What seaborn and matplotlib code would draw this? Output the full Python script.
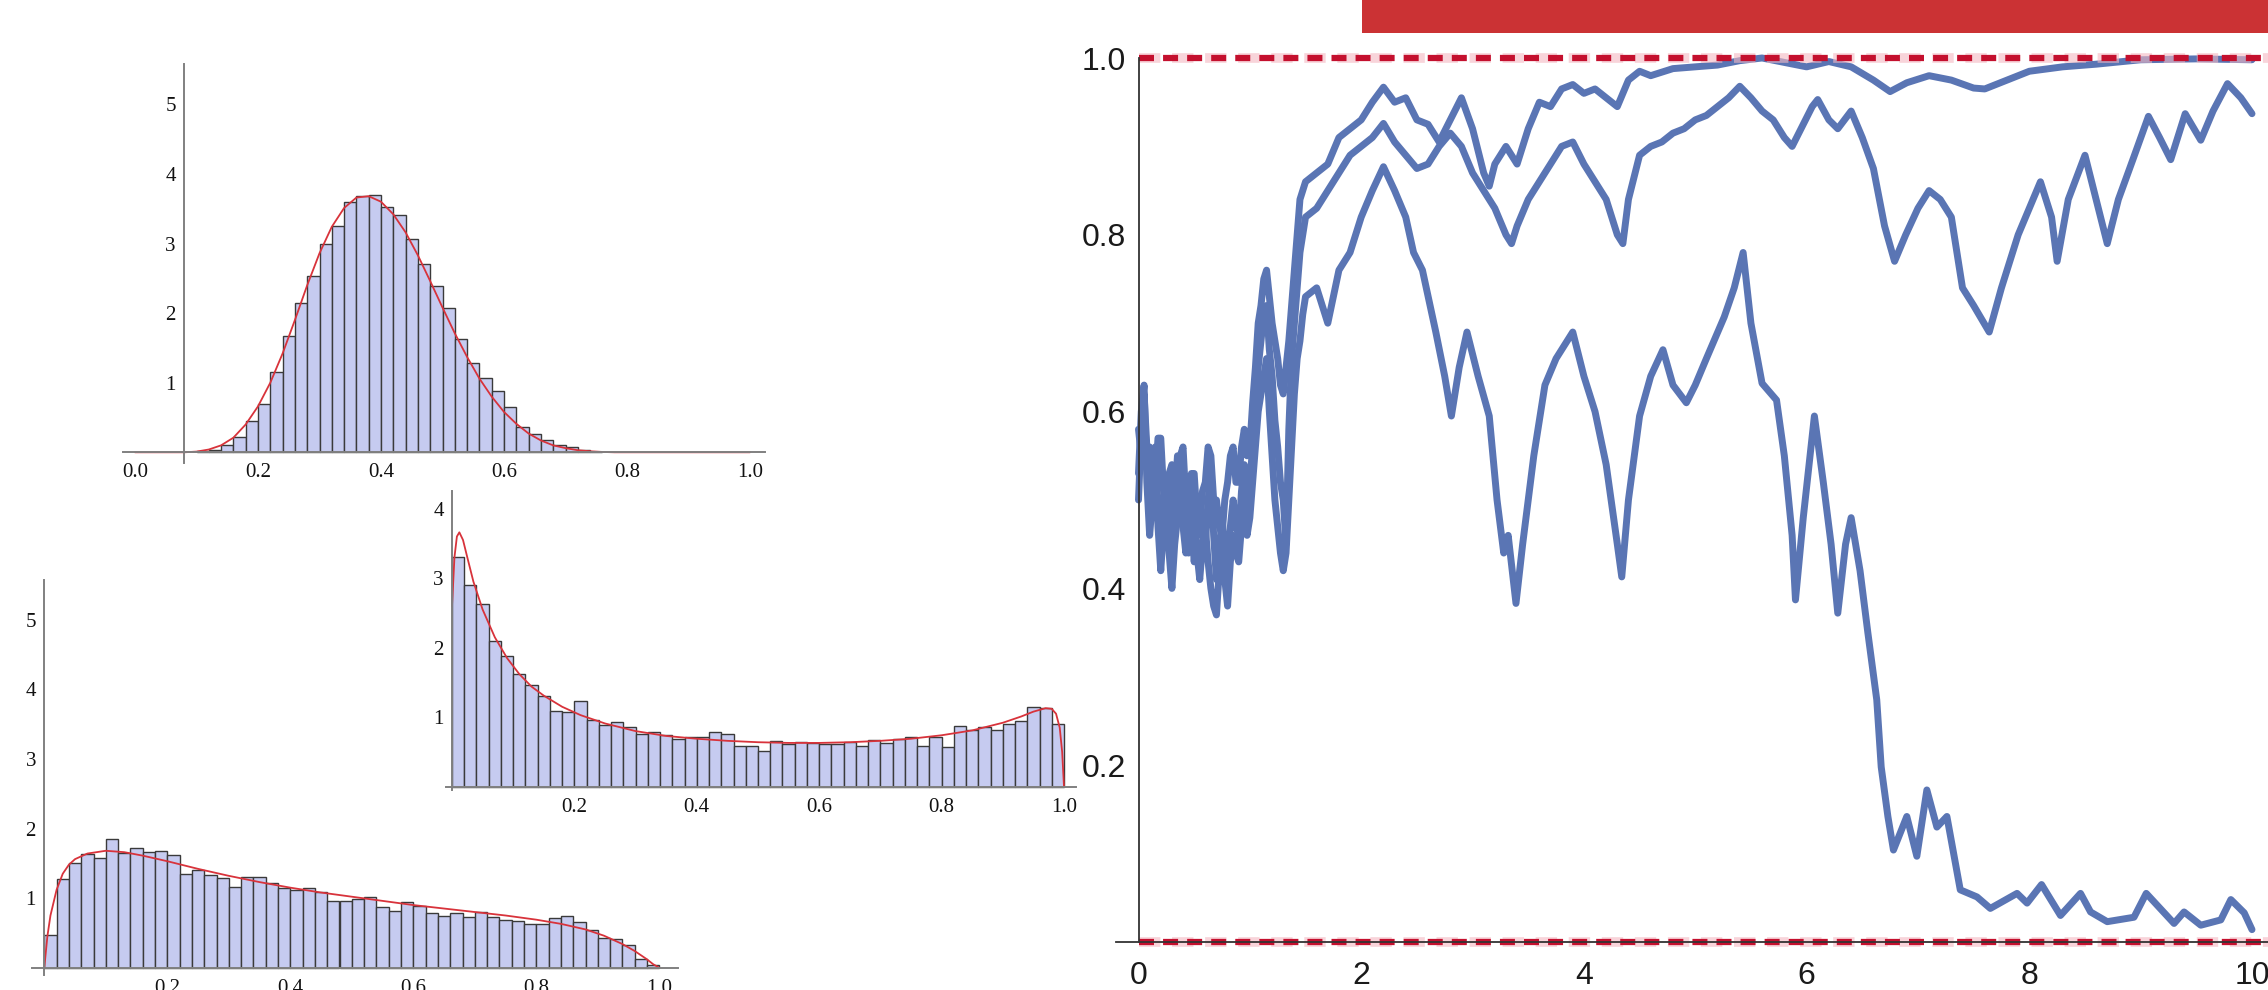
import matplotlib
matplotlib.use("Agg")
import matplotlib.pyplot as plt
from matplotlib import font_manager
from matplotlib.patches import Rectangle
from matplotlib.ticker import FixedLocator, MultipleLocator
import seaborn as sns

# ---------------- data ----------------
# top histogram (bins of width 0.02 starting at 0.10)
top_start = 0.10
top_heights = [0.02, 0.04, 0.11, 0.22, 0.45, 0.70, 1.15, 1.67, 2.15, 2.54, 3.00,
               3.25, 3.59, 3.68, 3.70, 3.53, 3.41, 3.07, 2.70, 2.39, 2.08, 1.63,
               1.28, 1.07, 0.88, 0.65, 0.36, 0.27, 0.18, 0.11, 0.08, 0.03, 0.01]
top_fit_x = [0.0, 0.08, 0.10, 0.12, 0.14, 0.16, 0.18, 0.20, 0.22, 0.24, 0.26, 0.28,
             0.30, 0.32, 0.34, 0.36, 0.38, 0.40, 0.42, 0.44, 0.46, 0.48, 0.50, 0.52,
             0.54, 0.56, 0.58, 0.60, 0.62, 0.64, 0.66, 0.68, 0.70, 0.72, 0.74, 0.76,
             0.78, 1.0]
top_fit_y = [0, 0, 0.01, 0.04, 0.10, 0.21, 0.40, 0.66, 1.00, 1.42, 1.90, 2.40,
             2.86, 3.24, 3.51, 3.66, 3.68, 3.60, 3.42, 3.16, 2.83, 2.46, 2.08, 1.71,
             1.37, 1.06, 0.80, 0.58, 0.41, 0.27, 0.17, 0.10, 0.06, 0.03, 0.015, 0.005,
             0, 0]

# middle histogram (50 bins on [0, 1])
mid_heights = [3.31, 2.90, 2.63, 2.10, 1.88, 1.62, 1.46, 1.30, 1.09, 1.08,
               1.24, 0.96, 0.89, 0.93, 0.86, 0.76, 0.79, 0.74, 0.68, 0.72,
               0.72, 0.79, 0.76, 0.58, 0.58, 0.52, 0.66, 0.61, 0.65, 0.63,
               0.62, 0.62, 0.65, 0.58, 0.67, 0.63, 0.69, 0.71, 0.58, 0.72,
               0.57, 0.87, 0.81, 0.86, 0.81, 0.90, 0.95, 1.14, 1.13, 0.90]
mid_fit_x = [0, 0.004, 0.008, 0.012, 0.018, 0.025, 0.035, 0.05, 0.07, 0.09, 0.11,
             0.13, 0.15, 0.18, 0.21, 0.25, 0.30, 0.35, 0.40, 0.45, 0.50, 0.55,
             0.60, 0.65, 0.70, 0.75, 0.80, 0.85, 0.90, 0.93, 0.95, 0.97, 0.98,
             0.987, 0.993, 0.997, 1.0]
mid_fit_y = [2.6, 3.3, 3.6, 3.66, 3.55, 3.3, 2.95, 2.55, 2.15, 1.85, 1.62,
             1.44, 1.31, 1.15, 1.03, 0.91, 0.80, 0.73, 0.69, 0.66, 0.64, 0.63,
             0.63, 0.64, 0.66, 0.69, 0.74, 0.81, 0.92, 1.01, 1.08, 1.13, 1.12,
             1.05, 0.85, 0.5, 0.0]

# bottom histogram (50 bins on [0, 1])
bot_heights = [0.47, 1.27, 1.51, 1.64, 1.58, 1.85, 1.65, 1.72, 1.66, 1.67,
               1.62, 1.34, 1.41, 1.33, 1.29, 1.16, 1.30, 1.30, 1.22, 1.14,
               1.12, 1.15, 1.09, 0.96, 0.96, 0.98, 1.01, 0.87, 0.82, 0.95,
               0.89, 0.79, 0.75, 0.79, 0.73, 0.80, 0.73, 0.69, 0.67, 0.63,
               0.63, 0.71, 0.74, 0.66, 0.54, 0.43, 0.41, 0.32, 0.12, 0.04]
bot_fit_x = [0, 0.005, 0.01, 0.02, 0.03, 0.04, 0.05, 0.07, 0.10, 0.13, 0.16,
             0.20, 0.25, 0.30, 0.35, 0.40, 0.45, 0.50, 0.55, 0.60, 0.65, 0.70,
             0.75, 0.80, 0.84, 0.88, 0.91, 0.94, 0.96, 0.98, 0.99, 1.0]
bot_fit_y = [0, 0.45, 0.75, 1.12, 1.35, 1.48, 1.56, 1.64, 1.68, 1.66, 1.61,
             1.53, 1.42, 1.32, 1.23, 1.15, 1.08, 1.02, 0.96, 0.90, 0.85, 0.80,
             0.75, 0.69, 0.63, 0.55, 0.46, 0.34, 0.24, 0.12, 0.05, 0.0]

# right chart: three paths, the first 1.5 time units read every 0.025
early_t = [round(0.025 * i, 3) for i in range(61)]
path_a_t = early_t + [1.6, 1.7, 1.8, 1.9, 2.0, 2.1, 2.2, 2.3, 2.4, 2.5, 2.6, 2.7, 2.8,
                      2.9, 3.0, 3.1, 3.15, 3.2, 3.3, 3.4, 3.5, 3.6, 3.7, 3.8, 3.9, 4.0,
                      4.1, 4.2, 4.3, 4.4, 4.5, 4.6, 4.8, 5.0, 5.2, 5.4, 5.6, 5.8, 6.0,
                      6.2, 6.4, 6.6, 6.75, 6.9, 7.1, 7.3, 7.5, 7.6, 7.8, 8.0, 8.3, 8.6,
                      9.0, 9.5, 10.0]
path_a_y = [0.50, 0.58, 0.60, 0.55, 0.56, 0.50, 0.52, 0.57, 0.57, 0.51,
            0.48, 0.53, 0.54, 0.49, 0.50, 0.55, 0.56, 0.50, 0.49, 0.53,
            0.53, 0.48, 0.47, 0.51, 0.52, 0.56, 0.55, 0.50, 0.50, 0.47,
            0.46, 0.50, 0.52, 0.55, 0.56, 0.52, 0.52, 0.56, 0.58, 0.55,
            0.56, 0.61, 0.65, 0.70, 0.72, 0.75, 0.76, 0.73, 0.70, 0.68,
            0.66, 0.63, 0.62, 0.65, 0.68, 0.72, 0.76, 0.80, 0.84, 0.85, 0.86,
            0.87, 0.88, 0.91, 0.92, 0.93, 0.95, 0.967, 0.95, 0.955, 0.93, 0.925, 0.905,
            0.93, 0.955, 0.92, 0.87, 0.855, 0.88, 0.90, 0.88, 0.92, 0.95, 0.945, 0.965,
            0.97, 0.96, 0.965, 0.955, 0.945, 0.975, 0.985, 0.98, 0.988, 0.99, 0.992,
            0.997, 1.0, 0.995, 0.99, 0.996, 0.99, 0.975, 0.962, 0.972, 0.98, 0.975,
            0.966, 0.965, 0.975, 0.985, 0.99, 0.993, 0.998, 0.999, 0.998]

path_b_t = early_t + [1.6, 1.7, 1.8, 1.9, 2.0, 2.1, 2.2, 2.3, 2.4, 2.5, 2.6, 2.7, 2.8,
                      2.9, 3.0, 3.1, 3.2, 3.3, 3.35, 3.4, 3.5, 3.6, 3.7, 3.8, 3.9, 4.0,
                      4.1, 4.2, 4.3, 4.35, 4.4, 4.5, 4.6, 4.7, 4.8, 4.9, 5.0, 5.1, 5.2,
                      5.3, 5.4, 5.5, 5.6, 5.7, 5.8, 5.87, 5.95, 6.05, 6.1, 6.2, 6.28,
                      6.4, 6.5, 6.6, 6.7, 6.79, 6.89, 7.0, 7.1, 7.2, 7.3, 7.4, 7.5,
                      7.64, 7.75, 7.9, 8.0, 8.1, 8.2, 8.25, 8.35, 8.5, 8.6, 8.7, 8.8,
                      8.93, 9.07, 9.17, 9.27, 9.4, 9.54, 9.65, 9.78, 9.9, 10.0]
path_b_y = [0.58, 0.55, 0.62, 0.56, 0.50, 0.53, 0.56, 0.49, 0.45, 0.50,
            0.52, 0.47, 0.44, 0.50, 0.55, 0.51, 0.47, 0.44, 0.51, 0.48,
            0.43, 0.47, 0.50, 0.46, 0.45, 0.50, 0.53, 0.46, 0.41, 0.44,
            0.48, 0.44, 0.42, 0.47, 0.50, 0.47, 0.46, 0.51, 0.54, 0.50,
            0.52, 0.56, 0.60, 0.65, 0.68, 0.71, 0.72, 0.67, 0.64, 0.59,
            0.56, 0.52, 0.50, 0.45, 0.58, 0.66, 0.70, 0.74, 0.78, 0.80, 0.82,
            0.83, 0.85, 0.87, 0.89, 0.90, 0.91, 0.926, 0.905, 0.89, 0.875, 0.88, 0.90,
            0.915, 0.90, 0.87, 0.85, 0.83, 0.80, 0.79, 0.81, 0.84, 0.86, 0.88, 0.90,
            0.905, 0.88, 0.86, 0.84, 0.80, 0.79, 0.84, 0.89, 0.90, 0.905, 0.915, 0.92,
            0.93, 0.935, 0.945, 0.955, 0.968, 0.955, 0.94, 0.93, 0.91, 0.90, 0.92,
            0.945, 0.953, 0.93, 0.92, 0.94, 0.91, 0.875, 0.81, 0.77, 0.80, 0.83, 0.85,
            0.84, 0.82, 0.74, 0.72, 0.69, 0.74, 0.80, 0.83, 0.86, 0.82, 0.77, 0.84,
            0.89, 0.84, 0.79, 0.84, 0.885, 0.934, 0.91, 0.885, 0.937, 0.907, 0.94,
            0.971, 0.955, 0.937]

path_c_t = early_t + [1.6, 1.7, 1.8, 1.9, 2.0, 2.1, 2.2, 2.3, 2.4, 2.47, 2.55, 2.67,
                      2.75, 2.81, 2.88, 2.95, 3.05, 3.15, 3.22, 3.28, 3.32, 3.39, 3.45,
                      3.55, 3.65, 3.75, 3.9, 4.0, 4.1, 4.2, 4.3, 4.34, 4.4, 4.5, 4.6,
                      4.71, 4.8, 4.92, 5.0, 5.1, 5.26, 5.35, 5.43, 5.5, 5.6, 5.73, 5.8,
                      5.87, 5.9, 5.97, 6.07, 6.15, 6.22, 6.28, 6.35, 6.4, 6.48, 6.55,
                      6.63, 6.67, 6.73, 6.78, 6.9, 6.99, 7.08, 7.17, 7.26, 7.38, 7.53,
                      7.65, 7.89, 7.98, 8.11, 8.28, 8.46, 8.55, 8.70, 8.94, 9.05, 9.30,
                      9.39, 9.54, 9.72, 9.81, 9.93, 10.0]
path_c_y = [0.53, 0.60, 0.63, 0.52, 0.46, 0.50, 0.55, 0.47, 0.42, 0.47,
            0.50, 0.44, 0.40, 0.45, 0.48, 0.52, 0.52, 0.47, 0.44, 0.49,
            0.49, 0.44, 0.41, 0.45, 0.47, 0.43, 0.40, 0.38, 0.37, 0.42,
            0.45, 0.41, 0.38, 0.43, 0.46, 0.44, 0.43, 0.47, 0.50, 0.46,
            0.48, 0.52, 0.56, 0.60, 0.62, 0.64, 0.66, 0.60, 0.55, 0.50,
            0.47, 0.44, 0.42, 0.44, 0.50, 0.56, 0.62, 0.66, 0.68, 0.71, 0.73,
            0.74, 0.70, 0.76, 0.78, 0.82, 0.85, 0.877, 0.85, 0.82, 0.78, 0.76, 0.69,
            0.64, 0.595, 0.65, 0.69, 0.64, 0.595, 0.50, 0.44, 0.46, 0.383, 0.45, 0.55,
            0.63, 0.66, 0.69, 0.64, 0.60, 0.54, 0.45, 0.413, 0.50, 0.595, 0.64, 0.67,
            0.63, 0.61, 0.63, 0.66, 0.707, 0.74, 0.78, 0.70, 0.632, 0.613, 0.55, 0.46,
            0.387, 0.48, 0.595, 0.52, 0.45, 0.372, 0.45, 0.48, 0.42, 0.35, 0.274,
            0.198, 0.142, 0.104, 0.142, 0.097, 0.172, 0.13, 0.142, 0.059, 0.051,
            0.038, 0.055, 0.044, 0.065, 0.030, 0.055, 0.034, 0.023, 0.028, 0.055,
            0.021, 0.034, 0.019, 0.025, 0.048, 0.033, 0.014]

bound_levels = [0.0, 1.0]

hist_x_ticks_full = [0.0, 0.2, 0.4, 0.6, 0.8, 1.0]
hist_x_ticks = [0.2, 0.4, 0.6, 0.8, 1.0]
right_x_ticks = [0, 2, 4, 6, 8, 10]
right_y_ticks = [0.2, 0.4, 0.6, 0.8, 1.0]

# ---------------- style ----------------
sns.set_theme(style="white")
plt.rcParams["font.family"] = ["Liberation Serif", "DejaVu Serif"]

names = {f.name for f in font_manager.fontManager.ttflist}
narrow = "Liberation Sans Narrow" if "Liberation Sans Narrow" in names else "Liberation Sans"

W, H = 2268, 990
fig = plt.figure(figsize=(W / 100, H / 100), dpi=100)
fig.patch.set_facecolor("white")

BAR = "#c6cbf0"
EDGE = "#3a3a3a"
FIT = "#d8333b"
PATH = "#5a75b4"
DASH = "#c4102e"


def axes_at(ox, oy, sx, sy, xlim, ylim):
    # ox, oy: pixel of the data origin, sx, sy: pixels per data unit
    left = ox + xlim[0] * sx
    right = ox + xlim[1] * sx
    top = oy - ylim[1] * sy
    bottom = oy - ylim[0] * sy
    ax = fig.add_axes([left / W, 1 - bottom / H, (right - left) / W, (bottom - top) / H])
    ax.patch.set_alpha(0)
    return ax


def mathematica_axes(ax, yaxis_at, xbounds, ybounds, color, width):
    for s in ["top", "right"]:
        ax.spines[s].set_visible(False)
    ax.spines["left"].set_position(("data", yaxis_at))
    ax.spines["bottom"].set_position(("data", 0))
    ax.spines["left"].set_bounds(*ybounds)
    ax.spines["bottom"].set_bounds(*xbounds)
    for s in ["left", "bottom"]:
        ax.spines[s].set_color(color)
        ax.spines[s].set_linewidth(width)
    ax.set_xlabel("")
    ax.set_ylabel("")


def draw_hist(ax, start, heights, fit_x, fit_y):
    edges = [start + 0.02 * i for i in range(len(heights) + 1)]
    centers = [start + 0.02 * i + 0.01 for i in range(len(heights))]
    sns.histplot(x=centers, weights=heights, bins=edges, stat="count", ax=ax,
                 color=BAR, edgecolor=EDGE, linewidth=1.0, alpha=1.0)
    sns.lineplot(x=fit_x, y=fit_y, ax=ax, color=FIT, linewidth=1.3,
                 estimator=None, sort=False)


def hist_ticks(ax, xticks, yticks):
    ax.xaxis.set_major_locator(FixedLocator(xticks))
    ax.xaxis.set_minor_locator(MultipleLocator(0.05))
    ax.yaxis.set_major_locator(FixedLocator(yticks))
    ax.yaxis.set_minor_locator(MultipleLocator(0.2))
    ax.set_xticklabels(["{:.1f}".format(v) for v in xticks])
    ax.set_yticklabels([str(v) for v in yticks])
    ax.tick_params(which="major", direction="in", length=6, width=0.9, color="#555555",
                   labelsize=15, labelcolor="#111111")
    ax.tick_params(which="minor", direction="in", length=3, width=0.8, color="#555555")
    ax.tick_params(axis="x", which="major", pad=8)
    ax.tick_params(axis="y", which="major", pad=6)


# top histogram
xl, yl = (-0.03, 1.04), (-0.16, 5.62)
ax_top = axes_at(135, 452.3, 615, 69.6, xl, yl)
draw_hist(ax_top, top_start, top_heights, top_fit_x, top_fit_y)
ax_top.set_xlim(xl)
ax_top.set_ylim(yl)
mathematica_axes(ax_top, 0.08, (-0.02, 1.025), (-0.15, 5.58), "#808080", 1.4)
hist_ticks(ax_top, hist_x_ticks_full, [1, 2, 3, 4, 5])

# middle histogram
xl, yl = (-0.02, 1.03), (-0.1, 4.3)
ax_mid = axes_at(452, 786.7, 612, 69.5, xl, yl)
draw_hist(ax_mid, 0.0, mid_heights, mid_fit_x, mid_fit_y)
ax_mid.set_xlim(xl)
ax_mid.set_ylim(yl)
mathematica_axes(ax_mid, 0.0, (-0.01, 1.02), (-0.05, 4.25), "#808080", 1.4)
hist_ticks(ax_mid, hist_x_ticks, [1, 2, 3, 4])

# bottom histogram
xl, yl = (-0.06, 1.06), (-0.12, 5.6)
ax_bot = axes_at(44.3, 967.7, 615, 69.6, xl, yl)
draw_hist(ax_bot, 0.0, bot_heights, bot_fit_x, bot_fit_y)
ax_bot.set_xlim(xl)
ax_bot.set_ylim(yl)
mathematica_axes(ax_bot, 0.0, (-0.02, 1.03), (-0.1, 5.57), "#808080", 1.4)
hist_ticks(ax_bot, hist_x_ticks, [1, 2, 3, 4, 5])

# right chart
xl, yl = (-0.3, 10.15), (-0.06, 1.066)
ax_r = axes_at(1138.5, 942, 111.35, 884, xl, yl)
for tt, yy in [(path_a_t, path_a_y), (path_b_t, path_b_y), (path_c_t, path_c_y)]:
    assert len(tt) == len(yy)
    sns.lineplot(x=tt, y=yy, ax=ax_r, color=PATH, linewidth=5.0,
                 estimator=None, sort=False)
ax_r.hlines(bound_levels, 0, 10.15, colors="#f4b8c2", linewidth=7, alpha=0.6,
            linestyles=(0, (2.2, 1.2)))
ax_r.hlines(bound_levels, 0, 10.15, colors=DASH, linewidth=4.5,
            linestyles=(0, (2.4, 1.45)))
ax_r.set_xlim(xl)
ax_r.set_ylim(yl)
mathematica_axes(ax_r, 0.0, (-0.2, 10.15), (0.0, 1.0), "#333333", 1.3)
ax_r.xaxis.set_major_locator(FixedLocator(right_x_ticks))
ax_r.xaxis.set_minor_locator(MultipleLocator(0.5))
ax_r.yaxis.set_major_locator(FixedLocator(right_y_ticks))
ax_r.yaxis.set_minor_locator(MultipleLocator(0.05))
ax_r.set_xticklabels([str(v) for v in right_x_ticks])
ax_r.set_yticklabels(["{:.1f}".format(v) for v in right_y_ticks])
ax_r.tick_params(which="major", direction="in", length=8, width=1.1, color="#444444")
ax_r.tick_params(which="minor", direction="in", length=4, width=1.0, color="#444444")
ax_r.tick_params(axis="x", which="major", pad=14)
ax_r.tick_params(axis="y", which="major", pad=9)
for lab in ax_r.get_xticklabels() + ax_r.get_yticklabels():
    lab.set_family([narrow, "Liberation Sans", "DejaVu Sans"])
    lab.set_fontsize(23)
    lab.set_color("#1a1a1a")

# red banner at top right
fig.add_artist(Rectangle((1362 / W, 1 - 33 / H), (W - 1362) / W, 33 / H,
                         transform=fig.transFigure, facecolor="#cb3234",
                         edgecolor="none"))

fig.savefig("out.png", dpi=100, facecolor="white")
